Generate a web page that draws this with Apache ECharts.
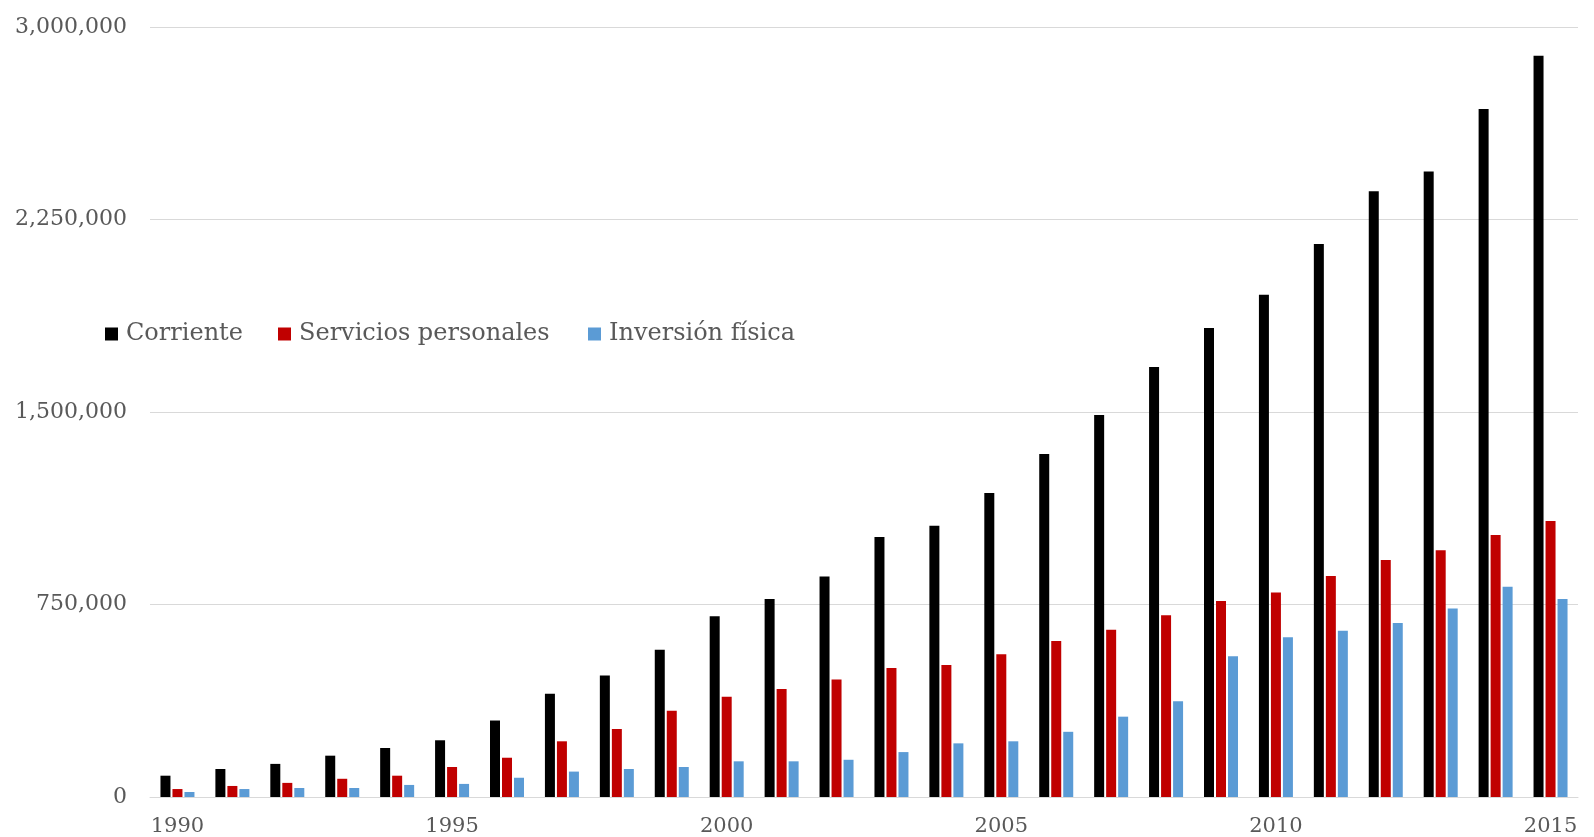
<!DOCTYPE html>
<html>
<head>
<meta charset="utf-8">
<style>
  html, body { margin: 0; padding: 0; background: #ffffff; }
  #chart { width: 1594px; height: 837px; }
</style>
<script src="https://cdn.jsdelivr.net/npm/echarts@6/dist/echarts.min.js"></script>
</head>
<body>
<div id="chart"></div>
<script>
// Years on the category axis
const years = ['1990','1991','1992','1993','1994','1995','1996','1997','1998','1999',
               '2000','2001','2002','2003','2004','2005','2006','2007','2008','2009',
               '2010','2011','2012','2013','2014','2015'];

// Gasto corriente
const corriente = [83000, 109000, 129000, 161000, 191000, 221000, 298000, 402000, 473000, 574000,
                   704000, 771000, 859000, 1013000, 1057000, 1184000, 1336000, 1488000, 1675000, 1827000,
                   1957000, 2155000, 2360000, 2437000, 2681000, 2888000];

// Servicios personales
const serviciosPersonales = [31000, 43000, 55000, 71000, 83000, 117000, 153000, 217000, 265000, 336000,
                             391000, 421000, 458000, 503000, 514000, 556000, 608000, 652000, 708000, 764000,
                             797000, 861000, 923000, 961000, 1021000, 1075000];

// Inversión física
const inversionFisica = [19500, 31000, 35000, 35000, 47000, 51000, 75000, 99000, 109000, 117000,
                         139000, 139000, 145000, 175000, 209000, 217000, 254000, 313000, 373000, 548000,
                         622000, 648000, 678000, 734000, 819000, 771000];

const seriesNames = ['Corriente', 'Servicios personales', 'Inversión física'];
const seriesColors = ['#000000', '#C00000', '#5B9BD5'];

const FONT = '"DejaVu Serif", "Liberation Serif", serif';
const TEXT_COLOR = '#595959';

const chart = echarts.init(document.getElementById('chart'), null, { renderer: 'canvas' });

// One legend block per series so each entry sits at its own position
const legendLefts = [105, 278, 588];
const legends = seriesNames.map((name, i) => ({
  data: [name],
  left: legendLefts[i],
  top: 322,
  padding: 0,
  orient: 'horizontal',
  itemWidth: 13,
  itemHeight: 13,
  icon: 'rect',
  itemGap: 0,
  textStyle: { fontFamily: FONT, fontSize: 24, color: TEXT_COLOR, padding: [0, 0, 0, 3] },
  selectedMode: false
}));

const seriesData = [corriente, serviciosPersonales, inversionFisica];

chart.setOption({
  animation: false,
  backgroundColor: '#ffffff',
  legend: legends,
  grid: { left: 150, right: 16, top: 27, bottom: 40, containLabel: false },
  xAxis: {
    type: 'category',
    data: years,
    axisLine: { show: true, lineStyle: { color: '#d9d9d9', width: 1 } },
    axisTick: { show: false },
    axisLabel: {
      interval: 4,
      margin: 19,
      fontFamily: FONT,
      fontSize: 21,
      color: TEXT_COLOR
    }
  },
  yAxis: {
    type: 'value',
    min: 0,
    max: 3000000,
    interval: 750000,
    axisLine: { show: false },
    axisTick: { show: false },
    splitLine: { lineStyle: { color: '#d9d9d9', width: 1 } },
    axisLabel: {
      margin: 23,
      padding: [4, 0, 0, 0],
      fontFamily: FONT,
      fontSize: 22,
      color: TEXT_COLOR
    }
  },
  series: seriesNames.map((name, i) => ({
    name: name,
    type: 'bar',
    data: seriesData[i],
    barWidth: 10,
    barGap: '20%',
    itemStyle: { color: seriesColors[i] }
  }))
});
</script>
</body>
</html>
